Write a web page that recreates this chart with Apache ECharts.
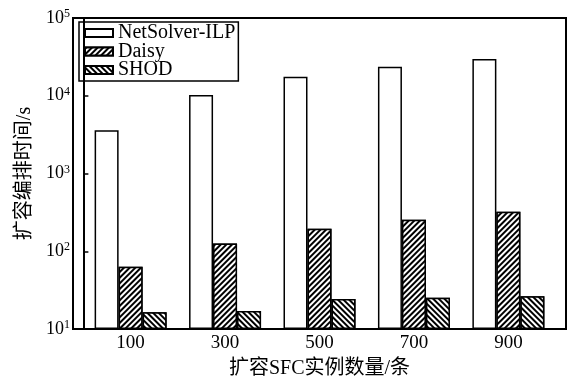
<!DOCTYPE html>
<html>
<head>
<meta charset="utf-8">
<script src="https://cdn.jsdelivr.net/npm/echarts@6/dist/echarts.min.js"></script>
<style>html,body{margin:0;padding:0;background:#fff;}#c{width:572px;height:378px;}</style>
</head>
<body>
<div id="c"></div>
<script>
const categories = ['100', '300', '500', '700', '900'];
const seriesNames = ['NetSolver-ILP', 'Daisy', 'SHOD'];
const netsolver = [3600, 10200, 17600, 23600, 29700];
const daisy = [63, 126, 195, 255, 323];
const shod = [16.4, 17, 24.3, 25.3, 26.3];
const yTicks = [10, 100, 1000, 10000, 100000];

const FONT = '"Liberation Serif", "Times New Roman", "Noto Sans CJK SC", serif';
const chart = echarts.init(document.getElementById('c'), null, {renderer: 'canvas'});

function pts(vals) { return categories.map((c, i) => [Number(c), vals[i]]); }

const hatch = (rot) => ({
  symbol: 'rect', symbolSize: 1, dashArrayX: [1, 0], dashArrayY: [1.4, 1.8],
  rotation: rot, color: '#000', backgroundColor: '#fff'
});

const baseItem = {color: '#fff', borderColor: '#000', borderWidth: 1.5};

const option = {
  animation: false,
  backgroundColor: '#fff',
  textStyle: {fontFamily: FONT, color: '#000'},
  grid: {left: 73, right: 6, top: 18, bottom: 49, outerBoundsMode: 'none', containLabel: false,
         show: true, borderColor: '#000', borderWidth: 2, backgroundColor: 'transparent'},
  legend: {
    left: 79, top: 22, orient: 'vertical', itemGap: -1.5, itemWidth: 28, itemHeight: 8,
    padding: [1, 3, 1, 5], borderColor: '#000', borderWidth: 1.5,
    textStyle: {fontFamily: FONT, fontSize: 20, color: '#000', lineHeight: 18},
    data: seriesNames.map(n => ({name: n, icon: 'rect'}))
  },
  xAxis: {
    type: 'value', min: -22, max: 1022,
    name: '扩容SFC实例数量/条', nameLocation: 'middle', nameGap: 30,
    nameTextStyle: {fontFamily: FONT, fontSize: 20, color: '#000'},
    axisLine: {show: true, onZero: false, lineStyle: {color: '#000', width: 2}},
    axisTick: {show: false},
    splitLine: {show: false},
    axisLabel: {customValues: categories.map(Number), fontFamily: FONT, fontSize: 19, color: '#000', margin: 5}
  },
  yAxis: {
    type: 'log', logBase: 10, min: 10, max: 100000, startValue: 10,
    name: '扩容编排时间/s', nameLocation: 'middle', nameGap: 38,
    nameTextStyle: {fontFamily: FONT, fontSize: 20, color: '#000'},
    axisLine: {show: true, lineStyle: {color: '#000', width: 2}},
    axisTick: {show: true, inside: true, length: 5, customValues: yTicks, lineStyle: {color: '#000', width: 1.5}},
    splitLine: {show: false},
    minorTick: {show: false},
    axisLabel: {
      customValues: yTicks, margin: 3, fontFamily: FONT, fontSize: 18, color: '#000',
      formatter: v => '10{s|' + Math.round(Math.log10(v)) + '}',
      rich: {s: {fontFamily: FONT, fontSize: 12, color: '#000', verticalAlign: 'top', padding: [0, 0, 8, 0]}}
    }
  },
  series: [
    {name: seriesNames[0], type: 'bar', barWidth: 24, barGap: '0%', data: pts(netsolver),
     itemStyle: Object.assign({}, baseItem)},
    {name: seriesNames[1], type: 'bar', barWidth: 24, barGap: '0%', data: pts(daisy),
     itemStyle: Object.assign({}, baseItem, {decal: hatch(-Math.PI / 4)})},
    {name: seriesNames[2], type: 'bar', barWidth: 24, barGap: '0%', data: pts(shod),
     itemStyle: Object.assign({}, baseItem, {decal: hatch(Math.PI / 4)})}
  ]
};
chart.setOption(option);
</script>
</body>
</html>
